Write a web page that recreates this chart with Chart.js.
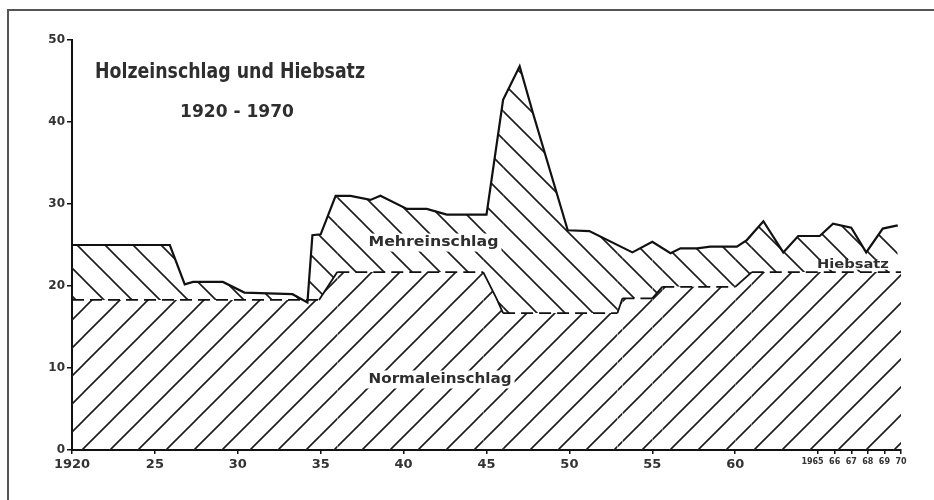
<!DOCTYPE html>
<html>
<head>
<meta charset="utf-8">
<script src="https://cdn.jsdelivr.net/npm/chart.js@4.4.1/dist/chart.umd.min.js"></script>
<style>
  html, body { margin: 0; padding: 0; background: #fff; }
  #wrap { width: 934px; height: 500px; position: relative; }
</style>
</head>
<body>
<div id="wrap"><canvas id="holzChart" width="934" height="500"></canvas></div>
<script>
// Holzeinschlag gesamt (obere Linie)
const einschlagJahre = [1920, 1925.9, 1926.8, 1927.3, 1929.1, 1930.4, 1933.3, 1934.2, 1934.5, 1935.0,
  1935.9, 1936.8, 1938.0, 1938.6, 1940.2, 1941.4, 1942.6, 1945.0, 1946.0, 1947.0,
  1947.8, 1949.9, 1951.2, 1953.8, 1955.0, 1956.1, 1956.7, 1957.7, 1958.5, 1960.1,
  1960.7, 1961.7, 1962.9, 1963.8, 1965.1, 1965.9, 1967.0, 1967.9, 1968.9, 1969.8];
const einschlagWerte = [25, 25, 20.2, 20.5, 20.5, 19.2, 19.0, 18.0, 26.2, 26.3,
  31.0, 31.0, 30.5, 31.0, 29.4, 29.4, 28.7, 28.7, 42.7, 46.8,
  41.1, 26.8, 26.7, 24.1, 25.4, 24.0, 24.6, 24.6, 24.8, 24.8,
  25.6, 27.9, 24.1, 26.1, 26.1, 27.6, 27.1, 24.1, 27.0, 27.4];

// Hiebsatz (gestrichelte Linie)
const hiebsatzJahre = [1920, 1934.9, 1936.0, 1944.8, 1945.6, 1946.0, 1952.9, 1953.2, 1955.0, 1955.6, 1960.0, 1961.0, 1970];
const hiebsatzWerte = [18.3, 18.3, 21.7, 21.7, 18.5, 16.7, 16.7, 18.5, 18.5, 19.9, 19.9, 21.7, 21.7];

// Achsen
const xTickWerte = [1920, 1925, 1930, 1935, 1940, 1945, 1950, 1955, 1960, 1965, 1966, 1967, 1968, 1969, 1970];
const xTickLabels = ['1920', '25', '30', '35', '40', '45', '50', '55', '60', '1965    ', '66', '67', '68', '69', '70'];
const yTicks = [0, 10, 20, 30, 40, 50];

const toPoints = (xs, ys) => xs.map((x, i) => ({ x: x, y: ys[i] }));

// Schraffur als Pattern
function makeHatch(dir) {
  const size = 28;
  const c = document.createElement('canvas');
  c.width = size; c.height = size;
  const g = c.getContext('2d');
  g.strokeStyle = '#1c1c1c';
  g.lineWidth = 1.6;
  g.beginPath();
  for (let k = -1; k <= 1; k++) {
    if (dir === '/') {
      g.moveTo(k * size - 2, size + 2);
      g.lineTo(k * size + size + 2, -2);
    } else {
      g.moveTo(k * size - 2, -2);
      g.lineTo(k * size + size + 2, size + 2);
    }
  }
  g.stroke();
  return g.createPattern(c, 'repeat');
}

// Text auf feste Breite gestaucht zeichnen
function fitText(ctx, text, cx, cy, font, width, bgHeight) {
  ctx.save();
  ctx.font = font;
  const w = ctx.measureText(text).width;
  if (bgHeight) {
    ctx.fillStyle = '#fff';
    ctx.fillRect(cx - width / 2 - 3, cy - bgHeight / 2, width + 6, bgHeight);
  }
  ctx.translate(cx, cy);
  ctx.scale(width / w, 1);
  ctx.textAlign = 'center';
  ctx.textBaseline = 'middle';
  ctx.fillStyle = '#2e2e2e';
  ctx.fillText(text, 0, 0);
  ctx.restore();
}

const fontFam = '"DejaVu Sans", sans-serif';

const textPlugin = {
  id: 'texte',
  afterDraw(chart) {
    const ctx = chart.ctx;
    const xs = chart.scales.x, ys = chart.scales.y;
    // Rahmen
    ctx.save();
    ctx.strokeStyle = '#555';
    ctx.lineWidth = 2;
    ctx.beginPath();
    ctx.moveTo(8, 500);
    ctx.lineTo(8, 10);
    ctx.lineTo(934, 10);
    ctx.stroke();
    ctx.restore();

    fitText(ctx, 'Holzeinschlag und Hiebsatz', 230, 73, 'bold 21px ' + fontFam, 270);
    fitText(ctx, '1920 - 1970', 237, 112, 'bold 18px ' + fontFam, 114);
    fitText(ctx, 'Mehreinschlag', xs.getPixelForValue(1941.8), ys.getPixelForValue(25.3), 'bold 14px ' + fontFam, 130, 18);
    fitText(ctx, 'Normaleinschlag', xs.getPixelForValue(1942.2), ys.getPixelForValue(8.6), 'bold 14px ' + fontFam, 143, 18);
    fitText(ctx, 'Hiebsatz', xs.getPixelForValue(1967.1), ys.getPixelForValue(22.6), 'bold 12px ' + fontFam, 72, 10);
  }
};

Chart.defaults.font.family = fontFam;

new Chart(document.getElementById('holzChart'), {
  type: 'line',
  data: {
    datasets: [
      {
        label: 'Hiebsatz',
        data: toPoints(hiebsatzJahre, hiebsatzWerte),
        borderColor: '#111',
        borderWidth: 1.8,
        pointRadius: 0,
        tension: 0,
        fill: 'origin',
        backgroundColor: makeHatch('/'),
        segment: {
          borderDash: c => c.p0.parsed.y === c.p1.parsed.y ? [12, 6] : []
        }
      },
      {
        label: 'Holzeinschlag',
        data: toPoints(einschlagJahre, einschlagWerte),
        borderColor: '#111',
        borderWidth: 2.2,
        pointRadius: 0,
        tension: 0,
        fill: { target: 0, above: makeHatch('\\'), below: 'rgba(0,0,0,0)' }
      }
    ]
  },
  options: {
    responsive: false,
    animation: false,
    layout: { padding: { left: 32, right: 33, top: 40, bottom: 0 } },
    plugins: {
      legend: { display: false },
      tooltip: { enabled: false },
      title: { display: false }
    },
    scales: {
      x: {
        type: 'linear',
        min: 1920,
        max: 1970,
        afterFit: s => { s.height = 50; },
        afterBuildTicks: s => { s.ticks = xTickWerte.map(v => ({ value: v })); },
        border: { color: '#111', width: 2 },
        grid: { drawOnChartArea: false, tickLength: 4, color: '#111', lineWidth: 1.5 },
        ticks: {
          autoSkip: false,
          maxRotation: 0,
          padding: 3,
          color: '#333',
          callback: v => xTickLabels[xTickWerte.indexOf(v)] ?? '',
          font: c => (c.tick && c.tick.value >= 1965) ? { size: 8, weight: 'bold' } : { size: 13, weight: 'bold' }
        }
      },
      y: {
        min: 0,
        max: 50,
        afterFit: s => { s.width = 40; },
        afterBuildTicks: s => { s.ticks = yTicks.map(v => ({ value: v })); },
        border: { color: '#111', width: 2 },
        grid: { drawOnChartArea: false, tickLength: 5, color: '#111', lineWidth: 1.5 },
        ticks: {
          padding: 2,
          color: '#333',
          font: { size: 12, weight: 'bold' }
        }
      }
    }
  },
  plugins: [textPlugin]
});
</script>
</body>
</html>
